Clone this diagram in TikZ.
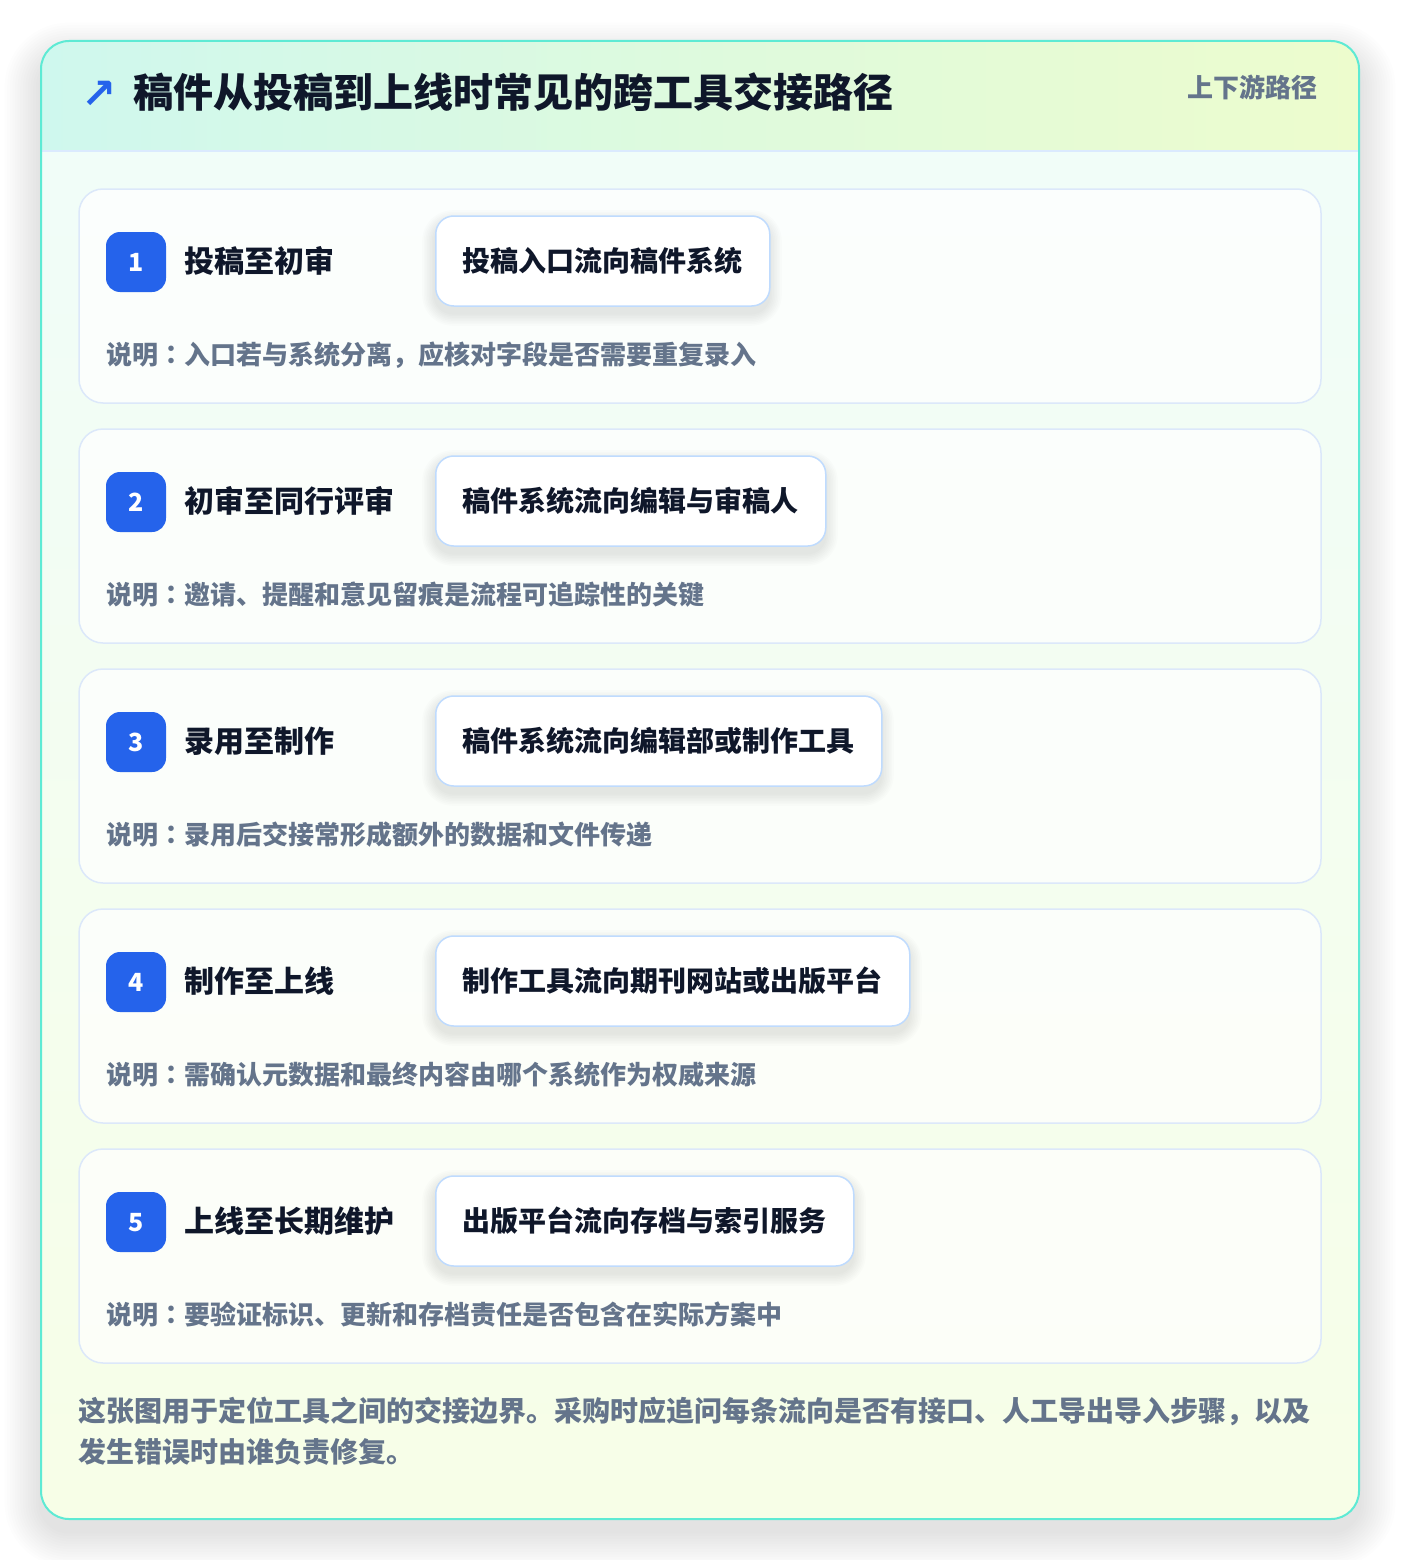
\documentclass[tikz,border=0pt]{standalone}
\usepackage{fontspec}
\setmainfont{Noto Sans CJK SC}
\newfontfamily\krpunct{Noto Sans CJK KR}
\newfontfamily\arrowfont{DejaVu Sans}
\definecolor{tealline}{HTML}{5EEAD4}
\definecolor{hdrL}{HTML}{CFF8EE}
\definecolor{hdrR}{HTML}{EDFCCD}
\definecolor{bodyT}{HTML}{F0FDFA}
\definecolor{bodyB}{HTML}{F7FEE7}
\definecolor{divline}{HTML}{DBEAFE}
\definecolor{cardline}{HTML}{DCE8FA}
\definecolor{flowline}{HTML}{BFDBFE}
\definecolor{brandblue}{HTML}{2563EB}
\definecolor{darktext}{HTML}{0F172A}
\definecolor{slatetext}{HTML}{64748B}
\newcommand{\cco}{{\krpunct ：}}
\newcommand{\ccm}{{\krpunct ，}}
\tikzset{
  cardbox/.style={draw=cardline, line width=1.5pt, fill=white, fill opacity=0.72, rounded corners=24pt, minimum width=1242pt, minimum height=214pt, inner sep=0pt},
  badgebox/.style={fill=brandblue, rounded corners=14pt, minimum width=60pt, minimum height=60pt, inner sep=0pt, text=white, font=\fontsize{25}{30}\selectfont\bfseries, text height=22pt, text depth=3pt},
  steptitle/.style={inner sep=0pt, anchor=west, text=darktext, font=\fontsize{30}{36}\selectfont\bfseries, text height=26.4pt, text depth=3.6pt},
  flowbox/.style={anchor=west, draw=flowline, line width=1.5pt, fill=white, rounded corners=18pt, minimum height=90pt, inner xsep=27pt, inner ysep=0pt, text=darktext, font=\fontsize{28}{34}\selectfont\bfseries, text height=24.6pt, text depth=3.4pt},
  desctext/.style={inner sep=0pt, anchor=west, text=slatetext, font=\fontsize{26}{32}\selectfont\bfseries, text height=22.9pt, text depth=3.1pt},
  foottext/.style={inner sep=0pt, anchor=west, text=slatetext, font=\fontsize{28}{41}\selectfont\bfseries, text height=24.6pt, text depth=3.4pt}
}
\begin{document}
\begin{tikzpicture}[x=1pt,y=-1pt]
\useasboundingbox (0,0) rectangle (1400,1560);
\fill[white] (0,0) rectangle (1400,1560);
% soft outer shadow
\foreach \k in {1,...,14} {
  \pgfmathsetmacro\ex{\k*2.6}
  \pgfmathsetmacro\rr{28+\k*2.6}
  \fill[black, opacity=0.0065, rounded corners=\rr pt] (41-\ex,41-\ex+18) rectangle (1359+\ex,1519+\ex+12);
}
\begin{scope}
  \clip[rounded corners=28pt] (41,41) rectangle (1359,1519);
  \shade[top color=bodyT, bottom color=bodyB] (41,41) rectangle (1359,1519);
  \shade[left color=hdrL, right color=hdrR] (41,41) rectangle (1359,151);
\end{scope}
\draw[divline, line width=1.5pt] (41,151) -- (1359,151);
\draw[tealline, line width=2pt, rounded corners=28pt] (41,41) rectangle (1359,1519);

% header
\node[inner sep=0pt, text=brandblue, font=\arrowfont\fontsize{42}{48}\selectfont\bfseries, text height=37pt, text depth=5pt] (arrow) at (99,93) {↗};
\node[inner sep=0pt, anchor=west, text=darktext, font=\fontsize{40}{48}\selectfont\bfseries, text height=35.2pt, text depth=4.8pt] (title) at (133,92.5) {稿件从投稿到上线时常见的跨工具交接路径};
\node[inner sep=0pt, anchor=east, text=slatetext, font=\fontsize{26}{32}\selectfont\bfseries, text height=22.9pt, text depth=3.1pt] (tag) at (1318,87.5) {上下游路径};

% steps
\foreach \i/\n/\ttl/\flw/\dsc in {
  1/10/投稿至初审/投稿入口流向稿件系统/说明\cco 入口若与系统分离\ccm 应核对字段是否需要重复录入,
  2/12/初审至同行评审/稿件系统流向编辑与审稿人/说明\cco 邀请、提醒和意见留痕是流程可追踪性的关键,
  3/14/录用至制作/稿件系统流向编辑部或制作工具/说明\cco 录用后交接常形成额外的数据和文件传递,
  4/15/制作至上线/制作工具流向期刊网站或出版平台/说明\cco 需确认元数据和最终内容由哪个系统作为权威来源,
  5/13/上线至长期维护/出版平台流向存档与索引服务/说明\cco 要验证标识、更新和存档责任是否包含在实际方案中} {
  \pgfmathsetmacro\T{189+(\i-1)*240}
  \pgfmathsetmacro\W{28*\n+54}
  \node[cardbox] (c\i) at (700,\T+107) {};
  \foreach \k in {1,...,8} {
    \pgfmathsetmacro\ex{\k*1.6}
    \pgfmathsetmacro\rr{18+\k*1.6}
    \fill[black, opacity=0.011, rounded corners=\rr pt] (435-\ex,\T+28-\ex+6) rectangle (435+\W+\ex,\T+118+\ex+6);
  }
  \node[badgebox] (b\i) at (136,\T+73) {\i};
  \node[steptitle] (t\i) at (184,\T+72) {\ttl};
  \node[flowbox] (f\i) at (435,\T+72) {\flw};
  \node[desctext] (d\i) at (106,\T+166) {\dsc};
}

% footer
\node[foottext] (n1) at (78,1411) {这张图用于定位工具之间的交接边界。采购时应追问每条流向是否有接口、人工导出导入步骤\ccm 以及};
\node[foottext] (n2) at (78,1452) {发生错误时由谁负责修复。};
\end{tikzpicture}
\end{document}
